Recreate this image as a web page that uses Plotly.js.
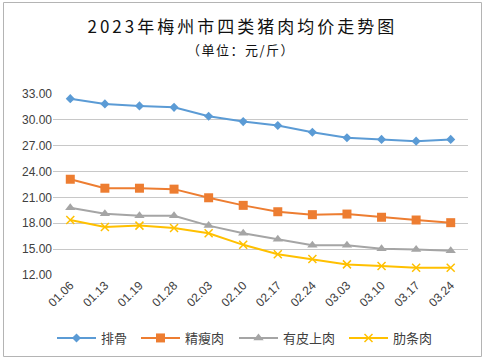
<!DOCTYPE html>
<html><head><meta charset="utf-8">
<script src="https://cdn.plot.ly/plotly-3.0.1.min.js"></script>
<style>
body{margin:0;padding:0;background:#fff;}
#chart{width:485px;height:361px;}
.annotation[data-index="0"] text{letter-spacing:3px;}
.annotation[data-index="1"] text{letter-spacing:1.5px;}
</style>
</head><body>
<div id="chart"></div>
<script>
const dates = ["01.06","01.13","01.19","01.28","02.03","02.10","02.17","02.24","03.03","03.10","03.17","03.24"];
const paigu = [32.46,31.85,31.62,31.45,30.42,29.80,29.34,28.57,27.92,27.73,27.53,27.73];
const jingshourou = [23.11,22.07,22.07,21.96,20.96,20.08,19.34,19.00,19.07,18.70,18.38,18.07];
const youpishangrou = [19.80,19.11,18.88,18.88,17.73,16.85,16.15,15.46,15.46,15.04,14.96,14.80];
const leitiaorou = [18.38,17.57,17.73,17.46,16.85,15.50,14.40,13.85,13.23,13.04,12.85,12.85];
const names = ["排骨","精瘦肉","有皮上肉","肋条肉"];
const yTicks = [12,15,18,21,24,27,30,33];
const titleText = "2023年梅州市四类猪肉均价走势图";
const subtitleText = "（单位：元/斤）";

const series = [paigu, jingshourou, youpishangrou, leitiaorou];
const colors = ["#5B9BD5","#ED7D31","#A5A5A5","#FFC000"];
const symbols = ["diamond","square","triangle-up","x-thin-open"];
const sizes = [7,9,9,8];
const legendIds = ["legend","legend2","legend3","legend4"];
const legendLeft = [52,136,234,344];

const traces = series.map((s,i)=>({
  x: dates, y: s, name: names[i], type:"scatter", mode:"lines+markers",
  line:{color:colors[i], width:2},
  marker:{symbol:symbols[i], size:sizes[i], color:colors[i], line:{color:colors[i], width: i===3?1.5:0}},
  cliponaxis:false, legend: legendIds[i]
}));

const W=485, H=361, ml=53, mr=17, mt=94, mb=86;
const pw=W-ml-mr, ph=H-mt-mb;
const px = v => (v-ml)/pw;
const py = v => (H-mb-v)/ph;

const layout = {
  width:W, height:H,
  margin:{l:ml, r:mr, t:mt, b:mb, autoexpand:false},
  paper_bgcolor:"#fff", plot_bgcolor:"#fff",
  font:{family:"'Liberation Sans', Arial, sans-serif", color:"#404040", size:12},
  annotations:[
    {text:titleText, xref:"paper", yref:"paper", x:px(242), y:py(25), xanchor:"center", yanchor:"middle",
     showarrow:false, font:{family:"'Noto Sans CJK SC', sans-serif", size:17, color:"#111"}},
    {text:subtitleText, xref:"paper", yref:"paper", x:px(241), y:py(50), xanchor:"center", yanchor:"middle",
     showarrow:false, font:{family:"'Noto Sans CJK SC', sans-serif", size:13, color:"#111"}}
  ],
  shapes:[
    {type:"rect", xref:"paper", yref:"paper", x0:px(3.5), x1:px(481.5), y0:py(356.5), y1:py(2.5),
     line:{color:"#b4b4b4", width:1}, fillcolor:"rgba(0,0,0,0)", layer:"below"}
  ],
  xaxis:{type:"category", range:[-0.5,11.5], tickangle:-45, showgrid:false, showline:false, zeroline:false,
    ticks:"", tickfont:{size:12, color:"#404040"}, fixedrange:true, automargin:false},
  yaxis:{range:[12,33], tickvals:yTicks, ticktext:yTicks.map(v=>v.toFixed(2)), showgrid:true, gridcolor:"#c8c8c8",
    gridwidth:1, zeroline:false, showline:false, ticks:"", tickfont:{size:12, color:"#404040"}, fixedrange:true, automargin:false},
  showlegend:true
};
legendIds.forEach((id,i)=>{
  layout[id] = {orientation:"h", x:px(legendLeft[i]), xanchor:"left", y:py(338), yanchor:"middle",
    font:{family:"'Noto Sans CJK SC', sans-serif", size:13, color:"#404040"}, itemwidth:39,
    bgcolor:"rgba(0,0,0,0)"};
});
Plotly.newPlot("chart", traces, layout, {displayModeBar:false, staticPlot:true});
</script>
</body></html>
